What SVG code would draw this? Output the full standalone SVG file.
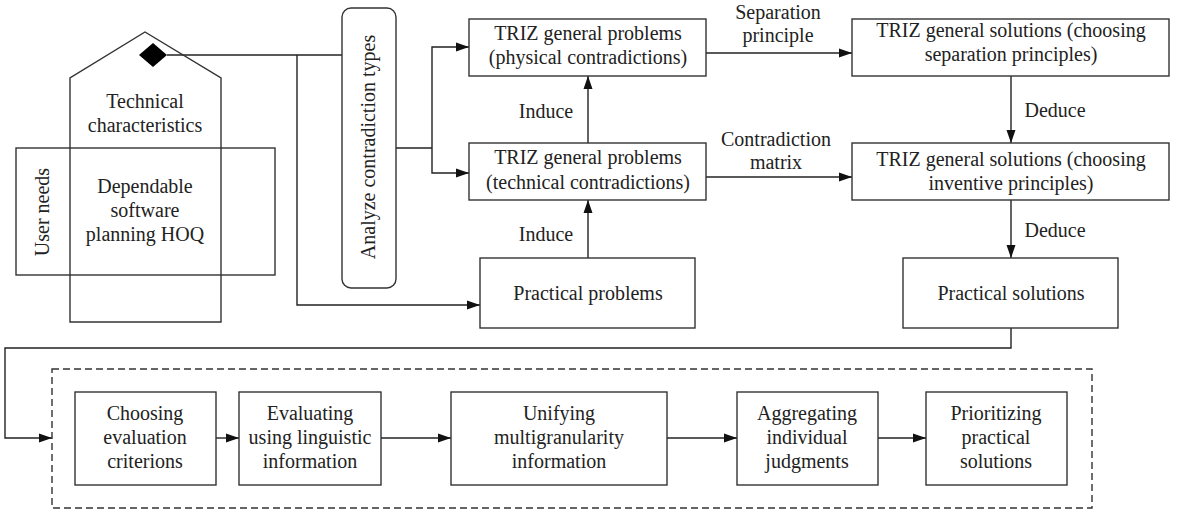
<svg xmlns="http://www.w3.org/2000/svg" width="1178" height="512" viewBox="0 0 1178 512">
<style>
text{font-family:"Liberation Serif","Times New Roman",serif;font-size:20px;fill:#222;text-anchor:middle}
.b{fill:#fff;stroke:#333;stroke-width:1.4}
.n{fill:none;stroke:#333;stroke-width:1.4}
.c{fill:none;stroke:#222;stroke-width:1.4}
.a{marker-end:url(#ah)}
</style>
<defs>
<marker id="ah" markerWidth="14" markerHeight="10" refX="13" refY="5" orient="auto" markerUnits="userSpaceOnUse">
<path d="M0,0.5 L13,5 L0,9.5 Z" fill="#111"/>
</marker>
</defs>
<g id="connectors">
<path class="c" d="M167,55 H342"/>
<path class="c a" d="M297,55 V305 H480"/>
<path class="c" d="M396,148 H432"/>
<path class="c a" d="M432,148 V47 H469"/>
<path class="c a" d="M432,148 V173 H469"/>
<path class="c a" d="M588,143 V76"/>
<path class="c a" d="M588,258 V200"/>
<path class="c a" d="M706,53 H852"/>
<path class="c a" d="M706,177 H852"/>
<path class="c a" d="M1011,76 V143"/>
<path class="c a" d="M1011,200 V258"/>
<path class="c a" d="M1011,328 V348 H5 V438 H52"/>
<path class="c a" d="M216,438 H239"/>
<path class="c a" d="M381,438 H451"/>
<path class="c a" d="M667,438 H737"/>
<path class="c a" d="M878,438 H926"/>
<text x="546" y="118">Induce</text>
<text x="546" y="241">Induce</text>
<text x="778" y="19">Separation</text>
<text x="778" y="42">principle</text>
<text x="776" y="146">Contradiction</text>
<text x="776" y="169">matrix</text>
<text x="1055" y="117">Deduce</text>
<text x="1055" y="237">Deduce</text>
</g>
<g id="hoq">
<path class="n" d="M70,322 V78 L145,32 L221,78 V322 Z"/>
<rect class="n" x="16" y="148" width="259" height="127"/>
<path d="M153,43 L167,55 L153,67 L139,55 Z" fill="#000"/>
<text x="145" y="108">Technical</text>
<text x="145" y="132">characteristics</text>
<text x="145" y="193">Dependable</text>
<text x="145" y="217">software</text>
<text x="145" y="241">planning HOQ</text>
<text transform="translate(49,212) rotate(-90)">User needs</text>
</g>
<g id="analyze">
<rect class="b" x="342" y="8" width="54" height="280" rx="9"/>
<text transform="translate(375,147) rotate(-90)">Analyze contradiction types</text>
</g>
<g id="physical">
<rect class="b" x="469" y="19" width="237" height="57"/>
<text x="588" y="40">TRIZ general problems</text>
<text x="588" y="64">(physical contradictions)</text>
</g>
<g id="technical">
<rect class="b" x="469" y="143" width="237" height="57"/>
<text x="588" y="164">TRIZ general problems</text>
<text x="588" y="189">(technical contradictions)</text>
</g>
<g id="pproblems">
<rect class="b" x="480" y="258" width="215" height="70"/>
<text x="588" y="300">Practical problems</text>
</g>
<g id="sepsol">
<rect class="b" x="852" y="19" width="317" height="57"/>
<text x="1011" y="37">TRIZ general solutions (choosing</text>
<text x="1011" y="61">separation principles)</text>
</g>
<g id="invsol">
<rect class="b" x="852" y="143" width="317" height="57"/>
<text x="1011" y="166">TRIZ general solutions (choosing</text>
<text x="1011" y="190">inventive principles)</text>
</g>
<g id="psolutions">
<rect class="b" x="903" y="258" width="215" height="70"/>
<text x="1011" y="300">Practical solutions</text>
</g>
<g id="evaluation">
<rect x="52" y="369" width="1040" height="139" fill="none" stroke="#333" stroke-width="1.4" stroke-dasharray="7,4"/>
</g>
<g id="b1">
<rect class="b" x="75" y="392" width="141" height="93"/>
<text x="145" y="420">Choosing</text>
<text x="145" y="444">evaluation</text>
<text x="145" y="468">criterions</text>
</g>
<g id="b2">
<rect class="b" x="239" y="392" width="142" height="93"/>
<text x="310" y="420">Evaluating</text>
<text x="310" y="444">using linguistic</text>
<text x="310" y="468">information</text>
</g>
<g id="b3">
<rect class="b" x="451" y="392" width="216" height="93"/>
<text x="559" y="420">Unifying</text>
<text x="559" y="444">multigranularity</text>
<text x="559" y="468">information</text>
</g>
<g id="b4">
<rect class="b" x="737" y="392" width="141" height="93"/>
<text x="807" y="420">Aggregating</text>
<text x="807" y="444">individual</text>
<text x="807" y="468">judgments</text>
</g>
<g id="b5">
<rect class="b" x="926" y="392" width="141" height="93"/>
<text x="996" y="420">Prioritizing</text>
<text x="996" y="444">practical</text>
<text x="996" y="468">solutions</text>
</g>
</svg>
